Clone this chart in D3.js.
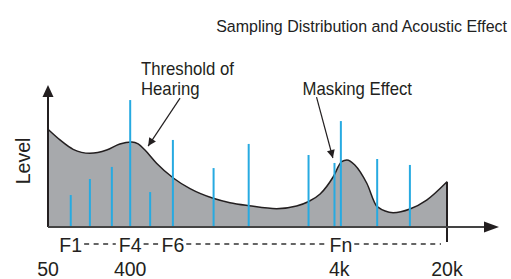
<!DOCTYPE html>
<html>
<head>
<meta charset="utf-8">
<script src="https://cdn.jsdelivr.net/npm/d3@7"></script>
<style>
  html, body { margin: 0; padding: 0; background: #fff; }
  svg { display: block; font-family: "Liberation Sans", Arial, Helvetica, sans-serif; }
</style>
</head>
<body>
<div id="chart"></div>
<script>
// frequency axis position (0..100, unitless) and level (0..100)
const curveX = [0, 3.0, 6.3, 10.5, 14.7, 18.0, 21.0, 22.6, 24.3, 27.2, 31.4, 35.6, 41.4, 45.6,
  50.4, 57.3, 62.3, 65.2, 68.2, 71.5, 73.6, 74.9, 76.9, 79.9, 82.5, 86.5, 90.7, 94.9, 100];
const curveLevel = [68.8, 61.3, 54.7, 51.9, 54.2, 58.5, 59.9, 58.5, 54.2, 44.9, 34.5, 27.0, 20.2, 17.1,
  15.0, 12.9, 14.8, 17.8, 23.2, 35.4, 46.0, 47.2, 43.7, 30.8, 14.3, 10.1, 12.7, 19.0, 31.9];

// sampled components
const sampleX = [5.7, 10.5, 16.0, 20.6, 25.6, 31.3, 41.5, 50.3, 65.3, 71.8, 73.4, 82.5, 90.7];
const sampleLevel = [22.5, 33.8, 42.3, 89.4, 24.6, 61.3, 41.5, 58.5, 50.7, 45.1, 74.6, 47.9, 43.7];

// band labels sit on these samples
const bandLabels = ["F1", "F4", "F6", "Fn"];
const bandSample = [0, 3, 5, 10];

// frequency tick labels
const freqLabels = ["50", "400", "4k", "20k"];
const freqX = [0, 20.6, 73.0, 100];

const width = 511, height = 279;
const margin = { top: 85, right: 64, bottom: 52, left: 48 };

const x = d3.scaleLinear().domain([0, 100]).range([margin.left, width - margin.right]);
const y = d3.scaleLinear().domain([0, 100]).range([height - margin.bottom, margin.top]);

const svg = d3.select("#chart").append("svg")
  .attr("width", width)
  .attr("height", height);

const ink = "#231f20";

// text narrowed a little, like the original lettering
function label(g, tx, ty, size, sx) {
  return g.append("text")
    .attr("transform", `translate(${tx},${ty}) scale(${sx},1)`)
    .attr("font-size", size)
    .attr("fill", ink);
}

svg.append("defs").append("marker")
  .attr("id", "head")
  .attr("viewBox", "0 0 10 10")
  .attr("refX", 10).attr("refY", 5)
  .attr("markerWidth", 11).attr("markerHeight", 8)
  .attr("markerUnits", "userSpaceOnUse")
  .attr("orient", "auto")
  .append("path")
  .attr("d", "M0,0 L10,5 L0,10 Z")
  .attr("fill", ink);

// threshold curve (area)
const pts = curveX.map((d, i) => [d, curveLevel[i]]);
const area = d3.area()
  .x(d => x(d[0]))
  .y0(y(0))
  .y1(d => y(d[1]))
  .curve(d3.curveMonotoneX);

svg.append("path")
  .datum(pts)
  .attr("d", area)
  .attr("fill", "#a7a9ac");

svg.append("path")
  .datum(pts)
  .attr("d", d3.line().x(d => x(d[0])).y(d => y(d[1])).curve(d3.curveMonotoneX))
  .attr("fill", "none")
  .attr("stroke", ink)
  .attr("stroke-width", 1.5);

// right edge of the area
svg.append("line")
  .attr("x1", x(100)).attr("x2", x(100))
  .attr("y1", y(curveLevel[curveLevel.length - 1])).attr("y2", y(0) + 15)
  .attr("stroke", ink).attr("stroke-width", 2);

// samples
svg.append("g")
  .selectAll("line")
  .data(sampleX)
  .join("line")
  .attr("x1", d => x(d)).attr("x2", d => x(d))
  .attr("y1", y(0))
  .attr("y2", (d, i) => y(sampleLevel[i]))
  .attr("stroke", "#27aae1")
  .attr("stroke-width", 2);

// axes with arrows
const x0 = x.range()[0], yb = y(0);
svg.append("line")
  .attr("x1", x0).attr("x2", x0)
  .attr("y1", yb).attr("y2", y.range()[1] + 10)
  .attr("stroke", ink).attr("stroke-width", 2);
svg.append("path")
  .attr("d", `M${x0},${y.range()[1]} L${x0 - 5.5},${y.range()[1] + 12} L${x0 + 5.5},${y.range()[1] + 12} Z`)
  .attr("fill", ink);

const xEnd = width - 12;
svg.append("line")
  .attr("x1", x0).attr("x2", xEnd - 10)
  .attr("y1", yb).attr("y2", yb)
  .attr("stroke", "#444").attr("stroke-width", 2);
svg.append("path")
  .attr("d", `M${xEnd},${yb} L${xEnd - 15},${yb - 5.5} L${xEnd - 15},${yb + 5.5} Z`)
  .attr("fill", ink);

// Level
svg.append("text")
  .attr("transform", `translate(30,${(y(0) + y(100)) / 2 + 5}) rotate(-90) scale(0.93,1)`)
  .attr("text-anchor", "middle")
  .attr("font-size", 21)
  .attr("fill", ink)
  .text("Level");

// title
label(svg, width - 4, 32, 17, 0.94)
  .attr("text-anchor", "end")
  .attr("fill", "#222")
  .text("Sampling Distribution and Acoustic Effect");

// annotations
const notes = [
  { lines: ["Threshold of", "Hearing"], tx: 23.3, ty: 107, from: [33.1, 90.8], to: [25.1, 57] },
  { lines: ["Masking Effect"], tx: 63.8, ty: 93, from: [67.3, 91.5], to: [71.4, 48.6] }
];
notes.forEach(n => {
  const t = label(svg, x(n.tx), y(n.ty), 18, 0.93);
  n.lines.forEach((s, i) => {
    t.append("tspan").attr("x", 0).attr("dy", i ? 20 : 0).text(s);
  });
  svg.append("line")
    .attr("x1", x(n.from[0])).attr("y1", y(n.from[1]))
    .attr("x2", x(n.to[0])).attr("y2", y(n.to[1]))
    .attr("stroke", ink).attr("stroke-width", 1.2)
    .attr("marker-end", "url(#head)");
});

// band labels with dashes between
const bandY = 252;
const boxes = bandLabels.map((s, i) => {
  const cx = x(sampleX[bandSample[i]]);
  const t = label(svg, cx, bandY, 21, 0.93).attr("text-anchor", "middle").text(s);
  const w = t.node().getComputedTextLength() * 0.93;
  return [cx - w / 2, cx + w / 2];
});
const segs = [];
for (let i = 0; i < boxes.length - 1; i++) {
  segs.push([boxes[i][1] + 2, boxes[i + 1][0] - 3]);
}
segs.push([boxes[boxes.length - 1][1] + 2, x(100) - 6]);
svg.append("g")
  .selectAll("line")
  .data(segs)
  .join("line")
  .attr("x1", d => d[0]).attr("x2", d => d[1])
  .attr("y1", bandY - 8).attr("y2", bandY - 8)
  .attr("stroke", "#333")
  .attr("stroke-width", 1.4)
  .attr("stroke-dasharray", "5,4.5");

// frequency labels
freqLabels.forEach((s, i) => {
  label(svg, x(freqX[i]), 276, 21, 0.93).attr("text-anchor", "middle").text(s);
});
</script>
</body>
</html>
